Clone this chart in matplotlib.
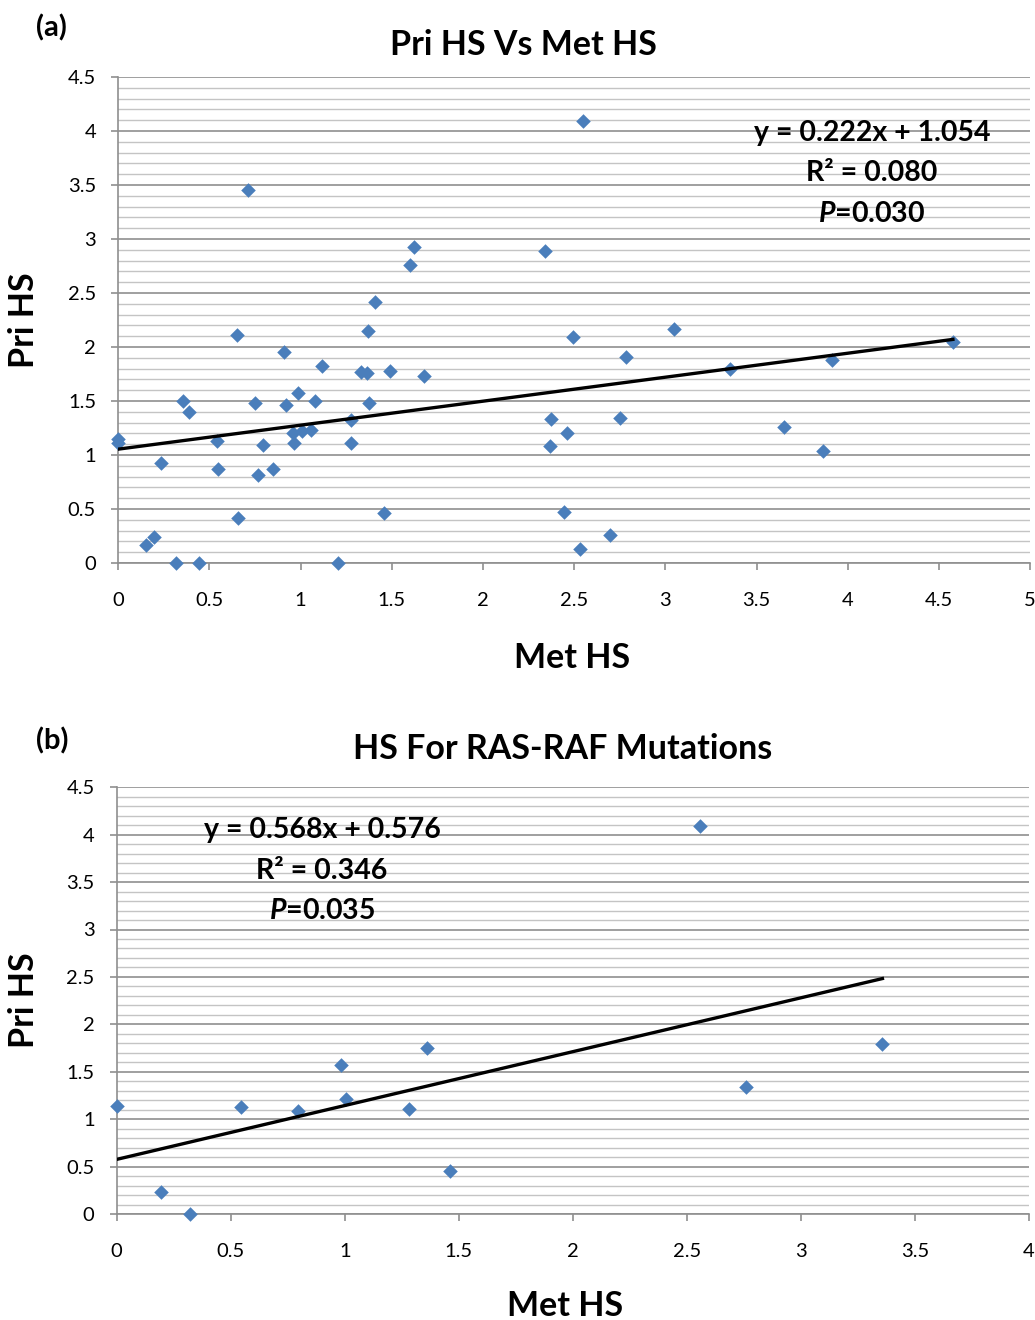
import numpy as np
import matplotlib
matplotlib.use('Agg')
import matplotlib.pyplot as plt
from matplotlib.ticker import MultipleLocator

plt.rcParams['font.family'] = ['Lato', 'DejaVu Sans']
plt.rcParams['axes.unicode_minus'] = False
plt.rcParams['mathtext.fontset'] = 'custom'
plt.rcParams['mathtext.bf'] = 'Lato:bold'
plt.rcParams['mathtext.bfit'] = 'Lato:bold:italic'

# (a) all samples
met_a = [0, 0, 0.154, 0.194, 0.236, 0.317, 0.445, 0.355, 0.388, 0.544,
         0.549, 0.652, 0.654, 0.747, 0.766, 0.793, 0.848, 0.91, 0.918, 0.958,
         0.963, 0.984, 1.005, 1.055, 1.08, 1.119, 1.207, 1.275, 1.278, 1.332,
         1.363, 1.37, 1.375, 1.41, 1.458, 1.49, 1.674, 0.709, 1.619, 1.60,
         2.551, 2.340, 2.493, 3.046, 2.782, 4.577, 3.354, 3.915, 2.372, 2.754,
         2.462, 2.365, 3.652, 3.866, 2.442, 2.694, 2.534]
pri_a = [1.145, 1.11, 0.164, 0.24, 0.93, 0, 0, 1.50, 1.40, 1.13,
         0.87, 2.11, 0.42, 1.48, 0.81, 1.09, 0.87, 1.95, 1.46, 1.20,
         1.11, 1.57, 1.22, 1.23, 1.50, 1.82, 0, 1.32, 1.11, 1.77,
         1.76, 2.15, 1.48, 2.42, 0.466, 1.78, 1.73, 3.45, 2.93, 2.76,
         4.095, 2.89, 2.095, 2.17, 1.91, 2.05, 1.80, 1.88, 1.33, 1.34,
         1.20, 1.086, 1.26, 1.037, 0.475, 0.256, 0.127]
slope_a, icpt_a = 0.222, 1.054
eq_a = ['y = 0.222x + 1.054', 'R² = 0.080', r'$\mathbfit{P}$=0.030']

# (b) RAS-RAF mutations
met_b = [0, 0.196, 0.32, 0.546, 0.795, 0.984, 1.006, 1.282, 1.362, 1.46,
         2.555, 2.760, 3.357]
pri_b = [1.14, 0.23, 0, 1.13, 1.09, 1.57, 1.21, 1.105, 1.75, 0.456,
         4.09, 1.335, 1.79]
slope_b, icpt_b = 0.568, 0.576
eq_b = ['y = 0.568x + 0.576', 'R² = 0.346', r'$\mathbfit{P}$=0.035']

blue = '#4a7ebb'
W, H = 1035, 1320

fig = plt.figure(figsize=(W / 100, H / 100), dpi=100)


def px(x, y):
    return x / W, 1 - y / H


def style_axes(ax, xmax):
    ax.set_xlim(0, xmax)
    ax.set_ylim(0, 4.5)
    ax.xaxis.set_major_locator(MultipleLocator(0.5))
    ax.yaxis.set_major_locator(MultipleLocator(0.5))
    ax.yaxis.set_minor_locator(MultipleLocator(0.1))
    ax.grid(axis='y', which='major', color='#8f8f8f', lw=1.2)
    ax.grid(axis='y', which='minor', color='#c4c4c4', lw=1.0)
    ax.set_axisbelow(True)
    for s in ['top', 'right']:
        ax.spines[s].set_visible(False)
    for s in ['left', 'bottom']:
        ax.spines[s].set_color('#8f8f8f')
        ax.spines[s].set_linewidth(1.2)
    ax.tick_params(axis='both', which='major', direction='out', length=5,
                   color='#8f8f8f', width=1.2, labelsize=14.5)
    ax.tick_params(axis='x', pad=16)
    ax.tick_params(axis='y', pad=11)
    ax.tick_params(axis='y', which='minor', length=0)
    ax.xaxis.set_major_formatter(plt.FuncFormatter(lambda v, p: f'{v:g}'))
    ax.yaxis.set_major_formatter(plt.FuncFormatter(lambda v, p: f'{v:g}'))


def draw(ax, met, pri, slope, icpt):
    ax.scatter(met, pri, marker='D', s=55, color=blue, zorder=3,
               linewidths=0, clip_on=False)
    xs = np.array([min(met), max(met)])
    ax.plot(xs, slope * xs + icpt, color='black', lw=2.4, zorder=4)


ax1 = fig.add_axes([0.1143, 0.5735, 0.8809, 0.3682])
style_axes(ax1, 5)
draw(ax1, met_a, pri_a, slope_a, icpt_a)

ax2 = fig.add_axes([0.1128, 0.0803, 0.8815, 0.3233])
style_axes(ax2, 4)
draw(ax2, met_b, pri_b, slope_b, icpt_b)

# titles, panel letters, axis labels
fig.text(*px(523, 45), 'Pri HS Vs Met HS', ha='center', va='center', fontsize=24.5, fontweight='bold')
fig.text(*px(563, 749), 'HS For RAS-RAF Mutations', ha='center', va='center', fontsize=24.5, fontweight='bold')
fig.text(*px(36, 28), '(a)', ha='left', va='center', fontsize=21, fontweight='bold')
fig.text(*px(36, 741), '(b)', ha='left', va='center', fontsize=21, fontweight='bold')
fig.text(*px(572, 658), 'Met HS', ha='center', va='center', fontsize=24.5, fontweight='bold')
fig.text(*px(565, 1306), 'Met HS', ha='center', va='center', fontsize=24.5, fontweight='bold')
fig.text(*px(24, 320), 'Pri HS', ha='center', va='center', rotation=90, fontsize=24.5, fontweight='bold')
fig.text(*px(24, 1000), 'Pri HS', ha='center', va='center', rotation=90, fontsize=24.5, fontweight='bold')

# regression annotations
for eq, cx, ys in [(eq_a, 872, (133, 173, 214)), (eq_b, 322, (830, 871, 911))]:
    for line, y in zip(eq, ys):
        fig.text(*px(cx, y), line, ha='center', va='center', fontsize=20.5, fontweight='bold')

fig.savefig('out.png', dpi=100)
